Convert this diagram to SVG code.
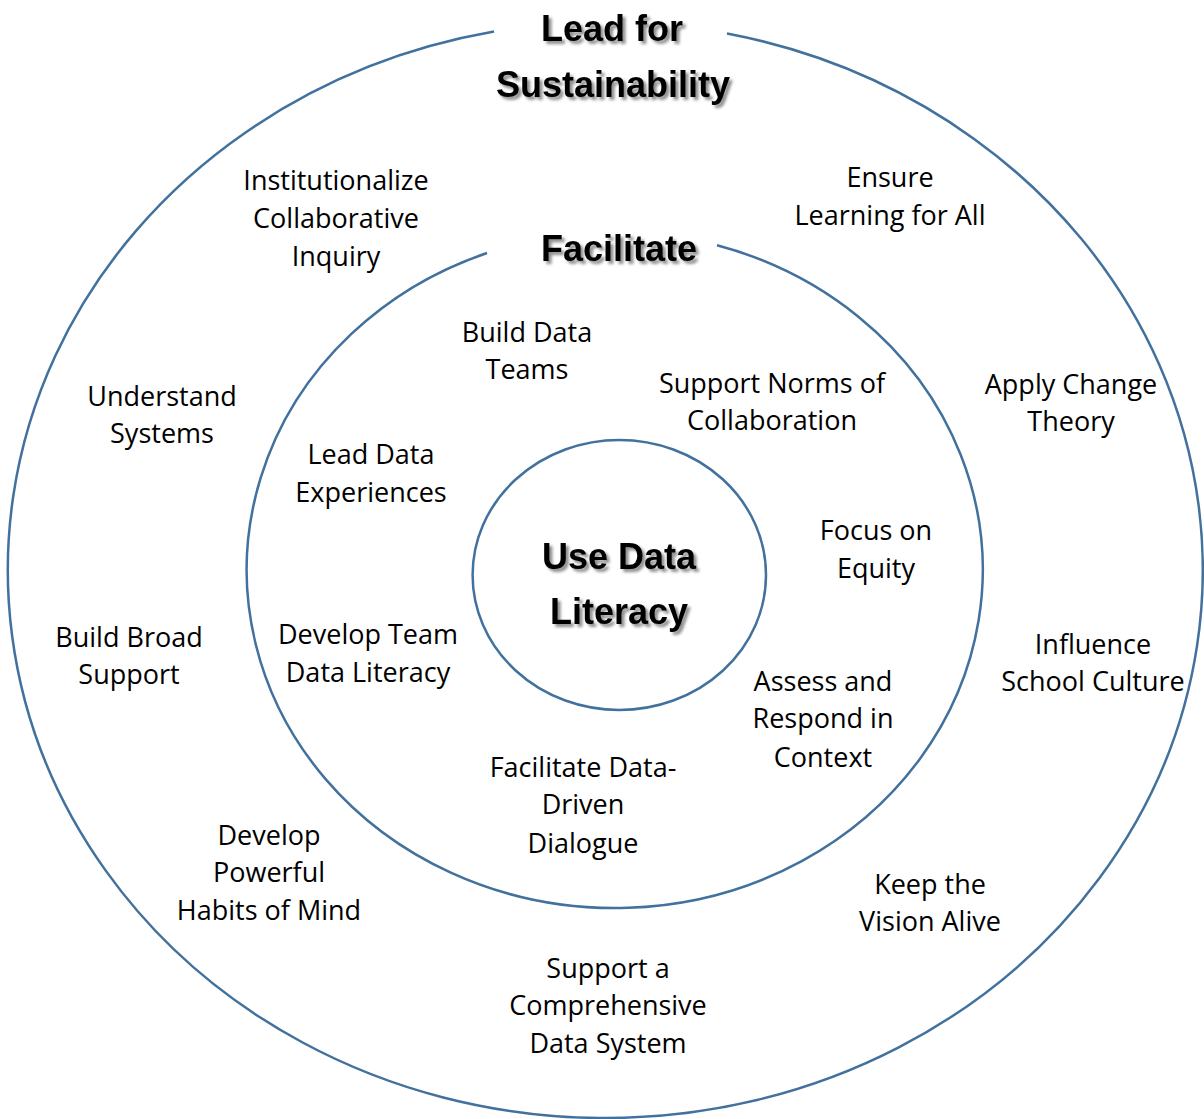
<svg xmlns="http://www.w3.org/2000/svg" width="1204" height="1119" viewBox="0 0 1204 1119">
  <style>
    .ring { fill: none; stroke: #41719C; stroke-width: 2.5; }
    .lbl { font-family: "Open Sans", "Liberation Sans", sans-serif; font-size: 27px; fill: #000; text-anchor: middle; }
    .ttl { font-family: "Liberation Sans", Arial, sans-serif; font-weight: bold; font-size: 36px; fill: #000; text-anchor: middle; }
  </style>
  <defs>
    <filter id="shadow" x="-10%" y="-20%" width="130%" height="160%">
      <feGaussianBlur in="SourceAlpha" stdDeviation="1.6" result="b"/>
      <feOffset in="b" dx="2.5" dy="3" result="o"/>
      <feComponentTransfer in="o" result="s">
        <feFuncA type="linear" slope="0.45"/>
      </feComponentTransfer>
      <feMerge>
        <feMergeNode in="s"/>
        <feMergeNode in="SourceGraphic"/>
      </feMerge>
    </filter>
  </defs>
  <rect width="1204" height="1119" fill="#fff"/>

  <!-- rings -->
  <g id="connectors">
    <path id="ring-outer" class="ring" d="M 727 33.5 A 597.5 548 0 1 1 494 31.6"/>
    <path id="ring-middle" class="ring" d="M 717 245.3 A 368 338 0 1 1 487 253"/>
    <ellipse id="ring-inner" class="ring" cx="619.3" cy="575" rx="146.7" ry="135"/>
  </g>

  <!-- ring titles -->
  <g id="title-lead" filter="url(#shadow)">
    <text class="ttl" x="612" y="41">Lead for</text>
    <text class="ttl" x="613" y="97">Sustainability</text>
  </g>
  <g id="title-facilitate" filter="url(#shadow)">
    <text class="ttl" x="619" y="261">Facilitate</text>
  </g>
  <g id="title-use" filter="url(#shadow)">
    <text class="ttl" x="619" y="569">Use Data</text>
    <text class="ttl" x="619" y="624">Literacy</text>
  </g>

  <!-- outer ring items -->
  <g id="n-institutionalize">
    <text class="lbl" x="336" y="190">Institutionalize</text>
    <text class="lbl" x="336" y="228">Collaborative</text>
    <text class="lbl" x="336" y="266">Inquiry</text>
  </g>
  <g id="n-ensure">
    <text class="lbl" x="890" y="187">Ensure</text>
    <text class="lbl" x="890" y="225">Learning for All</text>
  </g>
  <g id="n-understand">
    <text class="lbl" x="162" y="406">Understand</text>
    <text class="lbl" x="162" y="443">Systems</text>
  </g>
  <g id="n-apply">
    <text class="lbl" x="1071" y="394">Apply Change</text>
    <text class="lbl" x="1071" y="431">Theory</text>
  </g>
  <g id="n-broad">
    <text class="lbl" x="129" y="647">Build Broad</text>
    <text class="lbl" x="129" y="684">Support</text>
  </g>
  <g id="n-influence">
    <text class="lbl" x="1093" y="654">Influence</text>
    <text class="lbl" x="1093" y="691">School Culture</text>
  </g>
  <g id="n-habits">
    <text class="lbl" x="269" y="845">Develop</text>
    <text class="lbl" x="269" y="882">Powerful</text>
    <text class="lbl" x="269" y="920">Habits of Mind</text>
  </g>
  <g id="n-vision">
    <text class="lbl" x="930" y="894">Keep the</text>
    <text class="lbl" x="930" y="931">Vision Alive</text>
  </g>
  <g id="n-system">
    <text class="lbl" x="608" y="978">Support a</text>
    <text class="lbl" x="608" y="1015">Comprehensive</text>
    <text class="lbl" x="608" y="1053">Data System</text>
  </g>

  <!-- middle ring items -->
  <g id="n-teams">
    <text class="lbl" x="527" y="342">Build Data</text>
    <text class="lbl" x="527" y="379">Teams</text>
  </g>
  <g id="n-norms">
    <text class="lbl" x="772" y="393">Support Norms of</text>
    <text class="lbl" x="772" y="430">Collaboration</text>
  </g>
  <g id="n-experiences">
    <text class="lbl" x="371" y="464">Lead Data</text>
    <text class="lbl" x="371" y="502">Experiences</text>
  </g>
  <g id="n-equity">
    <text class="lbl" x="876" y="540">Focus on</text>
    <text class="lbl" x="876" y="578">Equity</text>
  </g>
  <g id="n-team-literacy">
    <text class="lbl" x="368" y="644">Develop Team</text>
    <text class="lbl" x="368" y="682">Data Literacy</text>
  </g>
  <g id="n-assess">
    <text class="lbl" x="823" y="691">Assess and</text>
    <text class="lbl" x="823" y="728">Respond in</text>
    <text class="lbl" x="823" y="767">Context</text>
  </g>
  <g id="n-dialogue">
    <text class="lbl" x="583" y="777">Facilitate Data-</text>
    <text class="lbl" x="583" y="814">Driven</text>
    <text class="lbl" x="583" y="853">Dialogue</text>
  </g>
</svg>
